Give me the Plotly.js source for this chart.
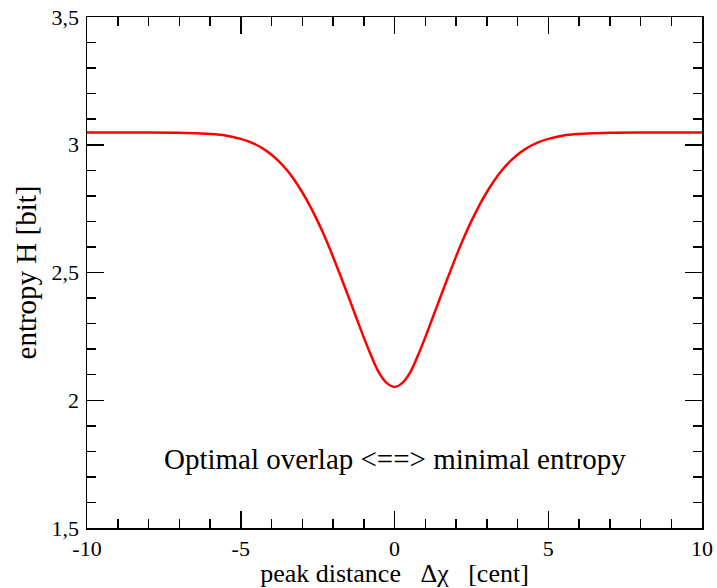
<!DOCTYPE html>
<html>
<head>
<meta charset="utf-8">
<script src="https://cdn.plot.ly/plotly-3.0.1.min.js"></script>
<style>html,body{margin:0;padding:0;background:#fff;}#chart{width:717px;height:588px;}</style>
</head>
<body>
<div id="chart"></div>
<script>
// Peak distance (cent)
const peakDistance = [-10, -9, -8, -7, -6.5, -6, -5.5, -5, -4.75, -4.5, -4.25, -4, -3.75, -3.5, -3.25, -3, -2.75, -2.5, -2.25, -2, -1.75, -1.5, -1.25, -1, -0.75, -0.5, -0.25, 0,
                      0.25, 0.5, 0.75, 1, 1.25, 1.5, 1.75, 2, 2.25, 2.5, 2.75, 3, 3.25, 3.5, 3.75, 4, 4.25, 4.5, 4.75, 5, 5.5, 6, 6.5, 7, 8, 9, 10];
// Entropy H (bit)
const entropy = [3.048, 3.048, 3.048, 3.047, 3.045, 3.042, 3.036, 3.023, 3.013, 3.000, 2.983, 2.961, 2.934, 2.901, 2.861, 2.814, 2.761, 2.701, 2.635, 2.562, 2.485, 2.406, 2.326, 2.246, 2.172, 2.107, 2.067, 2.052,
                 2.067, 2.107, 2.172, 2.246, 2.326, 2.406, 2.485, 2.562, 2.635, 2.701, 2.761, 2.814, 2.861, 2.901, 2.934, 2.961, 2.983, 3.000, 3.013, 3.023, 3.036, 3.042, 3.045, 3.047, 3.048, 3.048, 3.048];

const xTickVals = [-10, -5, 0, 5, 10];
const xTickText = ["-10", "-5", "0", "5", "10"];
const yTickVals = [1.5, 2, 2.5, 3, 3.5];
const yTickText = ["1,5", "2", "2,5", "3", "3,5"];

const annotationText = "Optimal overlap &lt;==&gt; minimal entropy";
const xTitle = "peak distance\u00a0\u00a0\u00a0Δχ\u00a0\u00a0\u00a0[cent]";
const yTitle = "entropy H [bit]";

const serif = "Liberation Serif";

const trace = {
  x: peakDistance,
  y: entropy,
  type: "scatter",
  mode: "lines",
  line: {color: "#ff0000", width: 2.5, shape: "spline", smoothing: 1},
  hoverinfo: "skip"
};

const axisCommon = {
  showline: true,
  linecolor: "#000",
  linewidth: 1.5,
  mirror: "allticks",
  ticks: "inside",
  ticklen: 17,
  tickwidth: 1.5,
  tickcolor: "#000",
  showgrid: false,
  zeroline: false,
  tickfont: {family: serif, size: 22, color: "#000"}
};

const layout = {
  width: 717,
  height: 588,
  margin: {l: 87, r: 15, t: 17, b: 60},
  paper_bgcolor: "#fff",
  plot_bgcolor: "#fff",
  showlegend: false,
  separators: ",.",
  font: {family: serif},
  xaxis: Object.assign({}, axisCommon, {
    range: [-10, 10],
    tickmode: "array",
    tickvals: xTickVals,
    ticktext: xTickText,
    ticklabelstandoff: 0,
    minor: {tickmode: "linear", tick0: 0, dtick: 1, ticks: "inside", ticklen: 9, tickwidth: 1.5, tickcolor: "#000", showgrid: false},
    title: {text: xTitle, font: {family: serif, size: 26, color: "#000"}, standoff: 1}
  }),
  yaxis: Object.assign({}, axisCommon, {
    range: [1.5, 3.5],
    tickmode: "array",
    tickvals: yTickVals,
    ticktext: yTickText,
    ticklabelstandoff: 2,
    minor: {tickmode: "linear", tick0: 0, dtick: 0.1, ticks: "inside", ticklen: 9, tickwidth: 1.5, tickcolor: "#000", showgrid: false},
    title: {text: yTitle, font: {family: serif, size: 29, color: "#000"}, standoff: 6}
  }),
  annotations: [{
    x: 0, y: 1.77, xref: "x", yref: "y",
    text: annotationText,
    showarrow: false,
    xanchor: "center", yanchor: "middle",
    font: {family: serif, size: 29, color: "#000"}
  }]
};

Plotly.newPlot("chart", [trace], layout, {displayModeBar: false, staticPlot: true});
</script>
</body>
</html>
